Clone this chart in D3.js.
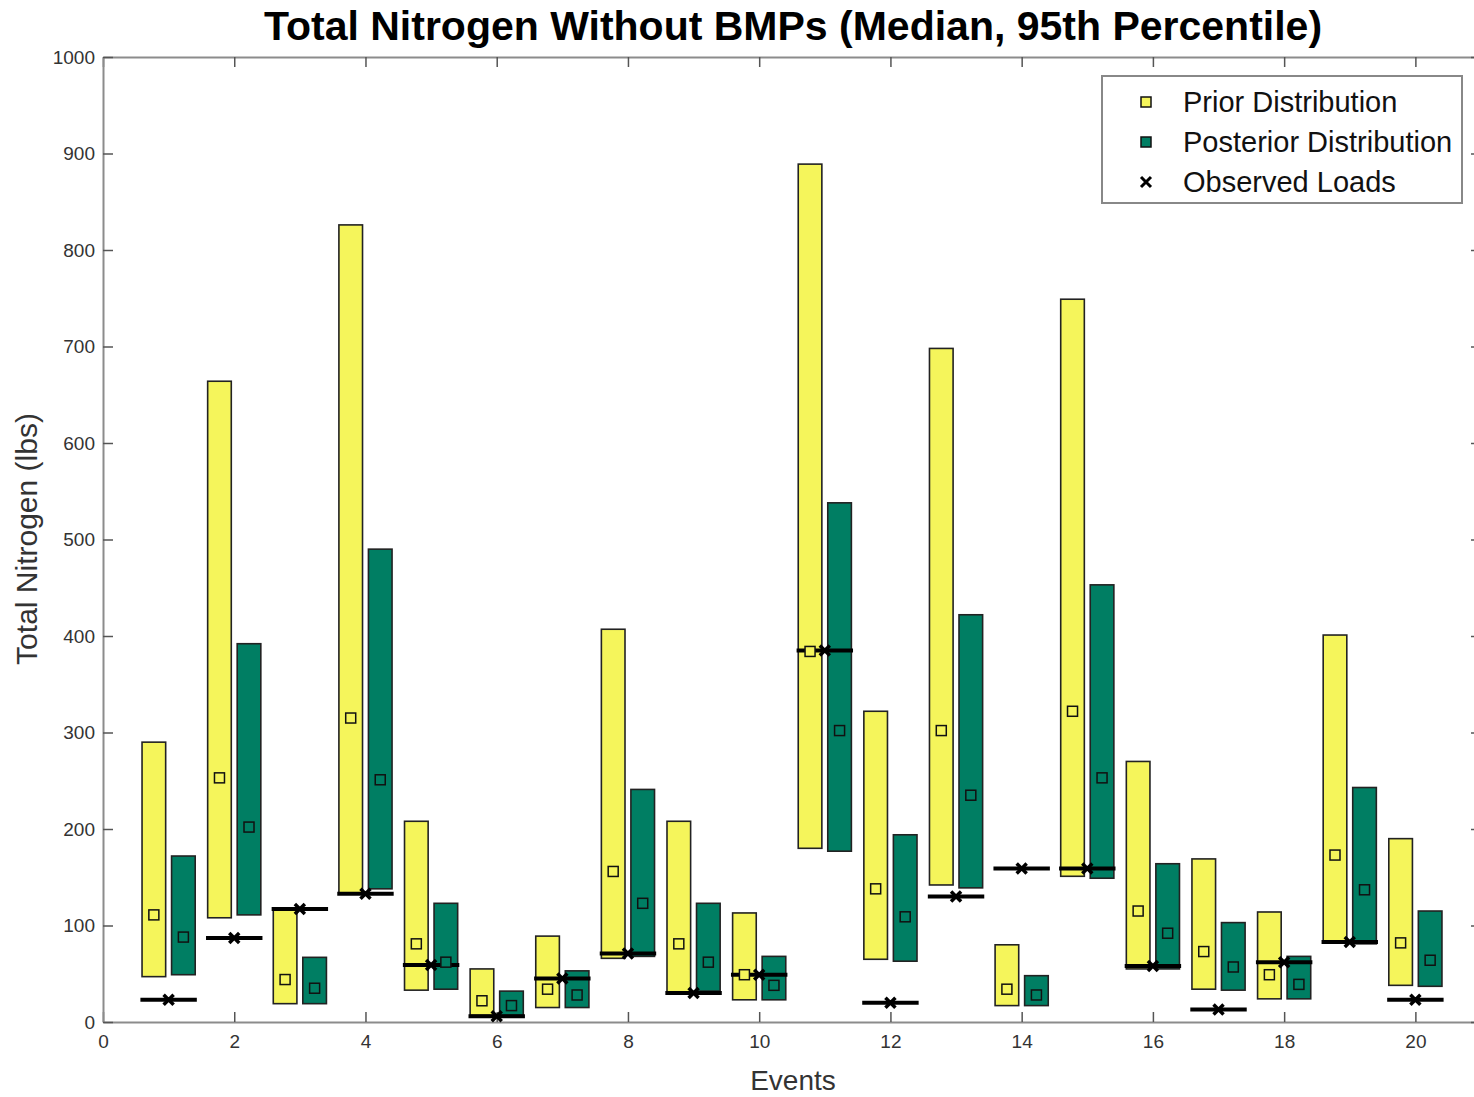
<!DOCTYPE html>
<html><head><meta charset="utf-8">
<script src="https://cdn.jsdelivr.net/npm/d3@7"></script>
<style>html,body{margin:0;padding:0;background:#fff;overflow:hidden}</style>
</head><body><svg id="c" width="1474" height="1097"></svg>
<script>
const events = d3.range(1, 21);
const priorLow  = [47,108,19,133,33,7,15,66,31,23,180,65,142,17,151,55,34,24,83,38];
const priorMed  = [111,253,44,315,81,22,34,156,81,49,384,138,302,34,322,115,73,49,173,82];
const priorHigh = [290,664,116,826,208,55,89,407,208,113,889,322,698,80,749,270,169,114,401,190];
const postLow   = [49,111,19,138,34,7,15,68,32,23,177,63,139,17,149,55,33,24,81,37];
const postMed   = [88,202,35,251,62,17,28,123,62,38,302,109,235,28,253,92,57,39,137,64];
const postHigh  = [172,392,67,490,123,32,53,241,123,68,538,194,422,48,453,164,103,68,243,115];
const observed  = [23,87,117,133,59,6,45,71,30,49,385,20,130,159,159,58,13,62,83,23];
const xTicks = d3.range(0, 21, 2);
const yTicks = d3.range(0, 1001, 100);
const legendLabels = ["Prior Distribution","Posterior Distribution","Observed Loads"];

const W = 1474, H = 1097;
const m = {l:103, r:1481, t:57, b:1022};
const x = d3.scaleLinear().domain([0,21]).range([m.l, m.r]);
const y = d3.scaleLinear().domain([0,1000]).range([m.b, m.t]);
const svg = d3.select("#c");
const font = "'Liberation Sans', Arial, Helvetica, sans-serif";
const YEL = "#f5f55b", GRN = "#007e63";
const off = 0.225, bw = 0.36;

const rows = events.map((e,i)=>({e, pl:priorLow[i], pm:priorMed[i], ph:priorHigh[i], ql:postLow[i], qm:postMed[i], qh:postHigh[i], o:observed[i]}));

// axes (box)
const axColor = "#8c8c8c";
const gB = svg.append("g").attr("transform",`translate(0,${m.b})`)
  .call(d3.axisBottom(x).tickValues(xTicks).tickSizeInner(-10).tickSizeOuter(0).tickPadding(13).tickFormat(d3.format("d")));
const gT = svg.append("g").attr("transform",`translate(0,${m.t})`)
  .call(d3.axisTop(x).tickValues(xTicks).tickSizeInner(-10).tickSizeOuter(0).tickFormat(""));
const gL = svg.append("g").attr("transform",`translate(${m.l},0)`)
  .call(d3.axisLeft(y).tickValues(yTicks).tickSizeInner(-10).tickSizeOuter(0).tickPadding(8).tickFormat(d3.format("d")));
const gR = svg.append("g").attr("transform",`translate(${m.r},0)`)
  .call(d3.axisRight(y).tickValues(yTicks).tickSizeInner(-10).tickSizeOuter(0).tickFormat(""));
[gB,gT,gL,gR].forEach(g=>{
  g.select(".domain").attr("stroke",axColor).attr("stroke-width",2);
  g.selectAll(".tick line").attr("stroke","#555").attr("stroke-width",1.5);
  g.selectAll("text").attr("fill","#333").style("font-family",font).style("font-size","19px");
});

// bars
svg.append("g").selectAll("rect.prior").data(rows).join("rect")
  .attr("x",d=>x(d.e-off-bw/2)).attr("width",x(bw)-x(0))
  .attr("y",d=>y(d.ph)).attr("height",d=>y(d.pl)-y(d.ph))
  .attr("fill",YEL).attr("stroke","#222").attr("stroke-width",1.6);
svg.append("g").selectAll("rect.post").data(rows).join("rect")
  .attr("x",d=>x(d.e+off-bw/2)).attr("width",x(bw)-x(0))
  .attr("y",d=>y(d.qh)).attr("height",d=>y(d.ql)-y(d.qh))
  .attr("fill",GRN).attr("stroke","#222").attr("stroke-width",1.6);

// observed lines
svg.append("g").selectAll("line").data(rows).join("line")
  .attr("x1",d=>x(d.e-0.43)).attr("x2",d=>x(d.e+0.43))
  .attr("y1",d=>y(d.o)).attr("y2",d=>y(d.o))
  .attr("stroke","#000").attr("stroke-width",4);

// medians
const sq = 10;
svg.append("g").selectAll("rect").data(rows).join("rect")
  .attr("x",d=>x(d.e-off)-sq/2).attr("y",d=>y(d.pm)-sq/2).attr("width",sq).attr("height",sq)
  .attr("fill",YEL).attr("stroke","#111").attr("stroke-width",1.5);
svg.append("g").selectAll("rect").data(rows).join("rect")
  .attr("x",d=>x(d.e+off)-sq/2).attr("y",d=>y(d.qm)-sq/2).attr("width",sq).attr("height",sq)
  .attr("fill",GRN).attr("stroke","#111").attr("stroke-width",1.5);

// observed x markers
const xs = 5;
svg.append("g").selectAll("path").data(rows).join("path")
  .attr("d",d=>{const cx=x(d.e), cy=y(d.o); return `M${cx-xs},${cy-xs}L${cx+xs},${cy+xs}M${cx-xs},${cy+xs}L${cx+xs},${cy-xs}`;})
  .attr("stroke","#000").attr("stroke-width",3.5).attr("fill","none");

// title and labels
svg.append("text").attr("x",793).attr("y",40).attr("text-anchor","middle")
  .style("font-family",font).style("font-weight","bold").style("font-size","41px").attr("fill","#000")
  .text("Total Nitrogen Without BMPs (Median, 95th Percentile)");
svg.append("text").attr("x",793).attr("y",1090).attr("text-anchor","middle")
  .style("font-family",font).style("font-size","28px").attr("fill","#333").text("Events");
svg.append("text").attr("transform",`translate(37,539) rotate(-90)`).attr("text-anchor","middle")
  .style("font-family",font).style("font-size","30px").attr("fill","#333").text("Total Nitrogen (lbs)");

// legend
const lg = svg.append("g");
lg.append("rect").attr("x",1102).attr("y",76).attr("width",360).attr("height",127)
  .attr("fill","#fff").attr("stroke","#888").attr("stroke-width",2);
const ly = [102,142,182];
legendLabels.forEach((t,i)=>{
  if(i<2){
    lg.append("rect").attr("x",1141).attr("y",ly[i]-5).attr("width",10).attr("height",10)
      .attr("fill",i===0?YEL:GRN).attr("stroke","#111").attr("stroke-width",1.5);
  } else {
    lg.append("path").attr("d",`M${1141},${ly[i]-5}L${1151},${ly[i]+5}M${1141},${ly[i]+5}L${1151},${ly[i]-5}`)
      .attr("stroke","#000").attr("stroke-width",3);
  }
  lg.append("text").attr("x",1183).attr("y",ly[i]+10).style("font-family",font).style("font-size","29px")
    .attr("fill","#111").text(t);
});
</script></body></html>
